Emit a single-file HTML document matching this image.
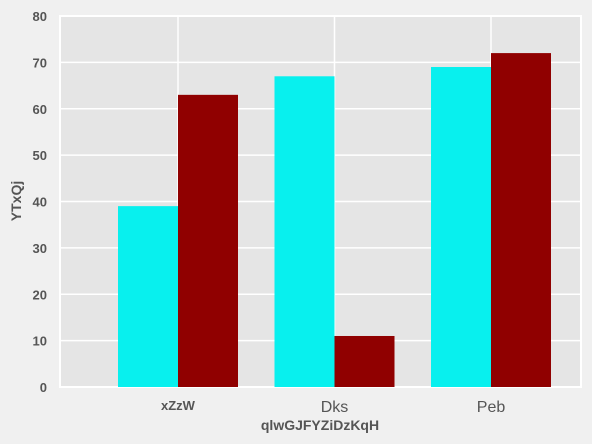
<!DOCTYPE html>
<html><head><meta charset="utf-8"><style>
html,body{margin:0;padding:0;background:#f0f0f0;width:592px;height:444px;overflow:hidden}
svg text{font-family:"Liberation Sans Narrow","Liberation Sans",sans-serif;fill:#555}
</style></head><body>
<svg id="chart" width="592" height="444" xmlns="http://www.w3.org/2000/svg"></svg>
<script>
const categories = ["xZzW","Dks","Peb"];
const seriesA = [39,67,69];
const seriesB = [63,11,72];
const yTicks = [0,10,20,30,40,50,60,70,80];
const colors = ["#08f0ee","#900000"];
const svg = document.getElementById('chart');
const NS = "http://www.w3.org/2000/svg";
const L=60,R=581,T=16,B=387;
const y = v => B - (v/80)*(B-T);
const step=(R-L)/3.33, x0=178-60;
const xc = i => 178 + i*156.5;
function mk(tag, attrs){const e=document.createElementNS(NS,tag);for(const k in attrs)e.setAttribute(k,attrs[k]);svg.appendChild(e);return e;}
const bg = mk('rect',{x:L,y:T,width:R-L,height:B-T,fill:'#e5e5e5',stroke:'#fff','stroke-width':2});


yTicks.forEach(t=>{
  const g = mk('line',{x1:L,x2:R,y1:y(t),y2:y(t),stroke:'#fff','stroke-width':1.5});
  
  
  const tx = mk('text',{x:47,y:y(t)+5,'text-anchor':'end','font-size':13,'font-weight':'bold'});
  tx.textContent=t;
  
  
});
categories.forEach((c,i)=>{
  const g = mk('line',{x1:xc(i),x2:xc(i),y1:T,y2:B,stroke:'#fff','stroke-width':1.5});
  
  
});
categories.forEach((c,i)=>{
  const a = mk('rect',{x:xc(i)-60,y:y(seriesA[i]),width:60,height:B-y(seriesA[i]),fill:colors[0]});
  
  
  const b = mk('rect',{x:xc(i),y:y(seriesB[i]),width:60,height:B-y(seriesB[i]),fill:colors[1]});
  
  
  const bold = i===0;
  const tx = mk('text',{x:xc(i),y:bold?410:412,'text-anchor':'middle','font-size':bold?13:16,'font-weight':bold?'bold':'normal'});
  if(!bold) tx.setAttribute('style','font-family:"Liberation Sans",sans-serif');
  tx.textContent=c;
  
  
});
const xt = mk('text',{x:320,y:430,'text-anchor':'middle','font-size':14,'font-weight':'bold'});
xt.textContent='qlwGJFYZiDzKqH';


const yt = mk('text',{x:21,y:201,'text-anchor':'middle','font-size':14,'font-weight':'bold',transform:'rotate(-90 21 201)'});
yt.textContent='YTxQj';


</script>
</body></html>
